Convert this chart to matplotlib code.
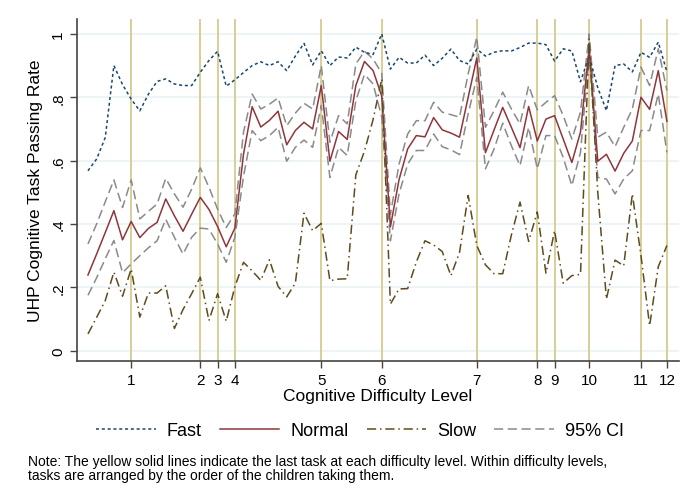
import numpy as np
import matplotlib
matplotlib.use("Agg")
import matplotlib.pyplot as plt

plt.rcParams['font.family'] = ['Liberation Sans', 'DejaVu Sans']

# task order within the sequence of 68 tasks
tasks = np.arange(1, 69)

# last task of each difficulty level (yellow lines / x ticks)
level_end = [6, 14, 16, 18, 28, 35, 46, 53, 55, 59, 65, 68]
level_labels = ['1', '2', '3', '4', '5', '6', '7', '8', '9', '10', '11', '12']

fast = [.568, .605, .673, .90, .84, .794, .757, .81, .85, .858,
        .842, .837, .837, .879, .916, .945, .835, .855, .878, .90,
        .912, .90, .912, .884, .93, .97, .902, .947, .90, .927,
        .924, .958, .942, .935, 1.0, .889, .926, .908, .908, .933,
        .90, .923, .952, .916, .905, .952, .93, .942, .947, .946,
        .957, .971, .971, .966, .914, .953, .946, .849, .93, .83,
        .758, .90, .905, .88, .942, .926, .974, .88]

normal = [.239, .305, .373, .442, .35, .408, .357, .386, .405, .479,
          .426, .377, .431, .484, .446, .392, .328, .387, .62, .77,
          .706, .727, .756, .65, .695, .721, .70, .837, .598, .692,
          .667, .837, .913, .884, .803, .391, .54, .637, .679, .675,
          .736, .697, .687, .674, .80, .924, .625, .697, .768, .705,
          .641, .771, .662, .731, .742, .668, .594, .69, .955, .598,
          .62, .567, .623, .662, .80, .762, .884, .724]

ci_hi = [.337, .40, .47, .539, .452, .539, .416, .44, .463, .544,
         .495, .453, .51, .577, .516, .447, .389, .432, .69, .81,
         .763, .778, .798, .71, .75, .781, .763, .90, .658, .742,
         .716, .905, .945, .921, .875, .43, .589, .684, .726, .726,
         .784, .753, .745, .737, .874, .99, .705, .758, .816, .763,
         .716, .837, .76, .784, .805, .742, .668, .753, 1.0, .674,
         .69, .644, .705, .763, .895, .837, .953, .821]

ci_lo = [.175, .23, .29, .348, .246, .274, .30, .325, .347, .415,
         .358, .305, .358, .387, .384, .337, .279, .358, .55, .695,
         .663, .679, .705, .598, .642, .665, .642, .774, .547, .642,
         .616, .789, .872, .842, .737, .347, .495, .589, .632, .632,
         .684, .644, .634, .619, .747, .863, .574, .637, .718, .647,
         .584, .705, .574, .679, .679, .61, .521, .626, .937, .547,
         .542, .495, .542, .568, .695, .695, .81, .626]

slow = [.053, .105, .158, .248, .172, .258, .106, .182, .182, .205,
        .07, .13, .18, .232, .095, .18, .093, .202, .279, .252,
        .222, .287, .203, .17, .213, .434, .379, .402, .221, .226,
        .227, .555, .63, .73, .858, .147, .195, .196, .28, .347,
        .334, .313, .237, .31, .49, .332, .271, .243, .243, .365,
        .469, .345, .438, .245, .379, .213, .237, .241, .984, .50,
        .163, .286, .268, .495, .30, .079, .265, .332]

fig = plt.figure(figsize=(6.82, 5.02), dpi=100)
ax = fig.add_axes([77/682, 1 - 362/502, 602/682, 342/502])

yt = [0, .2, .4, .6, .8, 1]
for y in yt:
    ax.axhline(y, color='#eaf2f3', lw=1.2, zorder=0)
for x in level_end:
    ax.axvline(x, color='#d6cb8c', lw=1.3, zorder=1)

ax.plot(tasks, fast, color='#1a476f', lw=1.1, ls=(0, (2, 1.8)), label='Fast', zorder=3)
ax.plot(tasks, normal, color='#90353b', lw=1.1, ls='-', label='Normal', zorder=3)
ax.plot(tasks, slow, color='#5e4c1e', lw=1.1, ls=(0, (6, 2.5, 1, 2.5)), label='Slow', zorder=3)
ax.plot(tasks, ci_hi, color='#8a8a8a', lw=1.1, ls=(0, (6, 3)), label='95% CI', zorder=2)
ax.plot(tasks, ci_lo, color='#8a8a8a', lw=1.1, ls=(0, (6, 3)), zorder=2)

ax.set_xlim(-0.27, 69.4)
ax.set_ylim(-0.0325, 1.047)

ax.set_yticks(yt)
ax.set_yticklabels(['0', '.2', '.4', '.6', '.8', '1'], rotation=90, va='center', fontsize=11)
ax.set_xticks(level_end)
ax.set_xticklabels(level_labels, fontsize=11)
ax.tick_params(axis='both', direction='out', length=5, width=1, color='#444444')

for side in ['top', 'right']:
    ax.spines[side].set_visible(False)
for side in ['left', 'bottom']:
    ax.spines[side].set_color('#444444')
    ax.spines[side].set_linewidth(1.2)

ax.set_xlabel('Cognitive Difficulty Level', fontsize=12.5, labelpad=1)
ax.set_ylabel('UHP Cognitive Task Passing Rate', fontsize=12.5, labelpad=6)

fig.legend(loc='center', bbox_to_anchor=(360/682, 1 - 432/502), ncol=4, frameon=False,
           fontsize=13, handlelength=3.3, handletextpad=0.6, columnspacing=1.0)

fig.text(28/682, 1 - 469/502,
         'Note: The yellow solid lines indicate the last task at each difficulty level. Within difficulty levels,\n'
         'tasks are arranged by the order of the children taking them.',
         fontsize=10, va='center', ha='left', linespacing=1.02)

fig.savefig('out.png', dpi=100)
